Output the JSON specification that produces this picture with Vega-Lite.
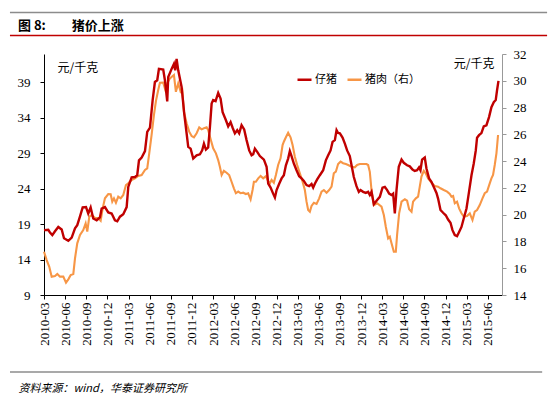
{
"$schema": "https://vega.github.io/schema/vega-lite/v6.json",
"width": 458, "height": 241,
"autosize": {"type": "none"},
"padding": {"left": 44, "top": 54, "right": 48, "bottom": 98},
"background": "white",
"title": {"text": "图 8:　　猪价上涨", "anchor": "start", "frame": "group", "dx": -26, "offset": 0, "dy": 21, "font": "Noto Sans CJK SC", "fontSize": 13, "fontWeight": "bold", "color": "#000000"},
"config": {"view": {"stroke": null}, "axis": {"grid": false}},
"datasets": {
"piglet": [{"month":0,"price":18.15},{"month":0.61,"price":18.2},{"month":0.85,"price":17.8},{"month":1.18,"price":17.45},{"month":1.56,"price":18.0},{"month":2.03,"price":18.6},{"month":2.51,"price":18.25},{"month":2.84,"price":17.0},{"month":3.45,"price":16.65},{"month":3.93,"price":17.1},{"month":4.40,"price":18.4},{"month":4.72,"price":18.85},{"month":5.11,"price":20.1},{"month":5.49,"price":21.35},{"month":5.96,"price":21.4},{"month":6.28,"price":20.5},{"month":6.62,"price":21.35},{"month":6.99,"price":19.8},{"month":7.48,"price":19.55},{"month":7.94,"price":19.95},{"month":8.18,"price":21.2},{"month":8.65,"price":21.4},{"month":9.12,"price":20.65},{"month":9.60,"price":20.5},{"month":10.07,"price":19.55},{"month":10.40,"price":19.4},{"month":10.78,"price":20.05},{"month":11.25,"price":20.4},{"month":11.73,"price":21.4},{"month":11.96,"price":24.25},{"month":12.44,"price":25.6},{"month":12.91,"price":25.65},{"month":13.23,"price":25.9},{"month":13.48,"price":28.0},{"month":13.86,"price":28.4},{"month":14.33,"price":29.3},{"month":14.65,"price":32.0},{"month":15.04,"price":32.6},{"month":15.42,"price":36.5},{"month":15.74,"price":39.05},{"month":16.07,"price":39.3},{"month":16.31,"price":40.9},{"month":16.92,"price":40.8},{"month":17.16,"price":39.3},{"month":17.49,"price":36.3},{"month":17.63,"price":39.75},{"month":18.11,"price":40.9},{"month":18.44,"price":41.6},{"month":18.62,"price":40.7},{"month":18.82,"price":42.3},{"month":19.05,"price":40.7},{"month":19.53,"price":38.35},{"month":19.90,"price":34.6},{"month":20.24,"price":31.8},{"month":20.47,"price":29.9},{"month":20.81,"price":29.65},{"month":21.18,"price":28.25},{"month":21.66,"price":28.7},{"month":22.13,"price":28.85},{"month":22.45,"price":29.4},{"month":22.70,"price":30.35},{"month":22.98,"price":29.5},{"month":23.30,"price":29.8},{"month":23.55,"price":32.7},{"month":23.79,"price":36.0},{"month":24.01,"price":36.5},{"month":24.35,"price":36.35},{"month":24.72,"price":37.5},{"month":25.06,"price":36.7},{"month":25.35,"price":34.8},{"month":25.82,"price":33.65},{"month":26.14,"price":32.8},{"month":26.48,"price":33.4},{"month":26.77,"price":32.6},{"month":27.09,"price":31.8},{"month":27.42,"price":32.25},{"month":27.70,"price":31.8},{"month":28.04,"price":32.95},{"month":28.41,"price":32.35},{"month":28.75,"price":30.85},{"month":29.12,"price":29.4},{"month":29.46,"price":28.7},{"month":29.69,"price":28.85},{"month":29.93,"price":29.65},{"month":30.26,"price":29.2},{"month":30.64,"price":28.6},{"month":31.21,"price":28.1},{"month":31.59,"price":27.1},{"month":31.82,"price":24.7},{"month":32.16,"price":24.15},{"month":32.52,"price":23.3},{"month":32.77,"price":22.75},{"month":33.01,"price":23.8},{"month":33.38,"price":24.7},{"month":33.72,"price":25.45},{"month":34.04,"price":25.9},{"month":34.33,"price":27.3},{"month":34.65,"price":28.25},{"month":34.89,"price":29.3},{"month":35.13,"price":28.6},{"month":35.46,"price":27.55},{"month":35.84,"price":26.6},{"month":36.21,"price":25.75},{"month":36.55,"price":25.45},{"month":36.88,"price":25.1},{"month":37.26,"price":24.5},{"month":37.63,"price":24.35},{"month":37.97,"price":24.65},{"month":38.20,"price":24.15},{"month":38.44,"price":24.7},{"month":38.77,"price":25.3},{"month":39.15,"price":25.9},{"month":39.62,"price":26.6},{"month":40.00,"price":28.0},{"month":40.33,"price":28.7},{"month":40.67,"price":29.4},{"month":40.95,"price":30.6},{"month":41.28,"price":30.85},{"month":41.52,"price":32.25},{"month":41.74,"price":31.85},{"month":41.99,"price":31.8},{"month":42.37,"price":31.2},{"month":42.70,"price":30.35},{"month":43.02,"price":29.4},{"month":43.40,"price":28.6},{"month":43.65,"price":27.3},{"month":43.97,"price":25.65},{"month":44.35,"price":24.35},{"month":44.68,"price":23.55},{"month":44.92,"price":23.8},{"month":45.29,"price":23.55},{"month":45.67,"price":23.4},{"month":46.00,"price":23.55},{"month":46.24,"price":23.1},{"month":46.48,"price":23.55},{"month":46.81,"price":21.8},{"month":47.28,"price":22.4},{"month":47.66,"price":22.85},{"month":48.04,"price":24.15},{"month":48.37,"price":24.25},{"month":48.70,"price":23.8},{"month":48.98,"price":23.3},{"month":49.32,"price":23.1},{"month":49.55,"price":23.3},{"month":49.79,"price":20.5},{"month":50.03,"price":23.8},{"month":50.35,"price":27.1},{"month":50.74,"price":28.1},{"month":51.06,"price":27.65},{"month":51.53,"price":27.3},{"month":51.91,"price":27.15},{"month":52.30,"price":26.7},{"month":52.62,"price":26.5},{"month":52.95,"price":26.6},{"month":53.23,"price":27.0},{"month":53.43,"price":26.6},{"month":53.66,"price":28.1},{"month":54.04,"price":28.4},{"month":54.28,"price":26.85},{"month":54.65,"price":25.45},{"month":54.99,"price":24.95},{"month":55.32,"price":24.25},{"month":55.70,"price":23.4},{"month":55.93,"price":22.6},{"month":56.27,"price":21.0},{"month":56.64,"price":20.6},{"month":57.02,"price":20.25},{"month":57.35,"price":19.65},{"month":57.69,"price":19.2},{"month":57.97,"price":18.15},{"month":58.30,"price":17.45},{"month":58.62,"price":17.3},{"month":58.91,"price":17.9},{"month":59.25,"price":18.6},{"month":59.57,"price":19.8},{"month":59.96,"price":21.2},{"month":60.28,"price":23.3},{"month":60.67,"price":25.9},{"month":60.99,"price":27.55},{"month":61.28,"price":29.4},{"month":61.46,"price":31.2},{"month":61.74,"price":31.55},{"month":62.08,"price":31.85},{"month":62.41,"price":32.8},{"month":62.79,"price":32.95},{"month":63.16,"price":34.1},{"month":63.50,"price":35.5},{"month":63.83,"price":36.2},{"month":64.11,"price":36.5},{"month":64.30,"price":37.9},{"month":64.50,"price":39.2}],
"pork": [{"month":0,"price":17.23},{"month":0.38,"price":16.61},{"month":0.75,"price":16.11},{"month":1.09,"price":15.37},{"month":1.56,"price":15.42},{"month":1.89,"price":15.57},{"month":2.27,"price":15.37},{"month":2.74,"price":15.37},{"month":3.12,"price":14.92},{"month":3.45,"price":15.17},{"month":3.79,"price":15.49},{"month":4.16,"price":15.57},{"month":4.40,"price":16.74},{"month":4.72,"price":17.86},{"month":5.11,"price":18.48},{"month":5.57,"price":18.85},{"month":5.91,"price":19.35},{"month":6.14,"price":18.73},{"month":6.43,"price":19.85},{"month":6.77,"price":19.97},{"month":7.23,"price":19.77},{"month":7.70,"price":19.73},{"month":8.04,"price":19.55},{"month":8.33,"price":20.47},{"month":8.65,"price":21.22},{"month":9.12,"price":21.54},{"month":9.46,"price":21.52},{"month":9.69,"price":20.97},{"month":9.93,"price":21.22},{"month":10.21,"price":20.89},{"month":10.54,"price":21.34},{"month":10.88,"price":21.22},{"month":11.25,"price":21.47},{"month":11.63,"price":22.21},{"month":11.96,"price":22.34},{"month":12.44,"price":22.59},{"month":12.91,"price":22.71},{"month":13.38,"price":22.89},{"month":13.86,"price":22.96},{"month":14.33,"price":23.34},{"month":14.65,"price":23.46},{"month":14.94,"price":24.6},{"month":15.28,"price":26.0},{"month":15.60,"price":27.44},{"month":15.89,"price":28.5},{"month":16.21,"price":29.31},{"month":16.45,"price":29.85},{"month":16.92,"price":29.86},{"month":17.30,"price":29.18},{"month":17.49,"price":29.81},{"month":17.87,"price":30.18},{"month":18.26,"price":30.36},{"month":18.44,"price":30.43},{"month":18.72,"price":29.18},{"month":19.05,"price":29.81},{"month":19.39,"price":29.18},{"month":19.62,"price":29.31},{"month":19.86,"price":27.69},{"month":20.24,"price":26.82},{"month":20.61,"price":26.2},{"month":20.95,"price":25.87},{"month":21.28,"price":25.78},{"month":21.66,"price":26.08},{"month":22.03,"price":26.52},{"month":22.37,"price":26.37},{"month":22.70,"price":26.45},{"month":23.08,"price":26.52},{"month":23.30,"price":26.32},{"month":23.65,"price":25.63},{"month":24.01,"price":24.96},{"month":24.40,"price":24.58},{"month":24.72,"price":24.08},{"month":24.96,"price":23.58},{"month":25.21,"price":22.96},{"month":25.53,"price":23.28},{"month":25.91,"price":23.13},{"month":26.28,"price":22.96},{"month":26.62,"price":22.46},{"month":26.95,"price":21.97},{"month":27.23,"price":21.6},{"month":27.56,"price":21.72},{"month":27.90,"price":21.6},{"month":28.27,"price":21.64},{"month":28.65,"price":21.54},{"month":28.98,"price":21.6},{"month":29.32,"price":21.15},{"month":29.60,"price":21.84},{"month":29.79,"price":22.46},{"month":30.07,"price":22.46},{"month":30.40,"price":22.71},{"month":30.74,"price":22.89},{"month":31.11,"price":22.71},{"month":31.49,"price":22.87},{"month":31.82,"price":22.5},{"month":32.06,"price":22.34},{"month":32.30,"price":22.59},{"month":32.62,"price":22.39},{"month":32.91,"price":22.96},{"month":33.23,"price":23.71},{"month":33.57,"price":24.21},{"month":33.86,"price":25.2},{"month":34.04,"price":25.45},{"month":34.33,"price":25.78},{"month":34.65,"price":26.12},{"month":34.99,"price":25.78},{"month":35.28,"price":25.2},{"month":35.60,"price":24.33},{"month":35.93,"price":23.71},{"month":36.31,"price":23.09},{"month":36.70,"price":22.46},{"month":37.02,"price":21.84},{"month":37.26,"price":20.97},{"month":37.49,"price":20.35},{"month":37.73,"price":20.22},{"month":37.97,"price":20.65},{"month":38.30,"price":20.89},{"month":38.68,"price":20.8},{"month":39.05,"price":21.22},{"month":39.39,"price":21.72},{"month":39.72,"price":21.84},{"month":40.10,"price":21.64},{"month":40.47,"price":21.84},{"month":40.81,"price":22.09},{"month":41.13,"price":23.09},{"month":41.42,"price":23.21},{"month":41.74,"price":23.78},{"month":42.09,"price":23.96},{"month":42.45,"price":23.84},{"month":42.84,"price":23.78},{"month":43.16,"price":23.71},{"month":43.65,"price":23.58},{"month":44.11,"price":23.54},{"month":44.44,"price":23.71},{"month":44.82,"price":23.78},{"month":45.29,"price":23.78},{"month":45.77,"price":23.78},{"month":46.00,"price":23.71},{"month":46.24,"price":23.2},{"month":46.48,"price":21.84},{"month":46.81,"price":20.72},{"month":47.28,"price":20.85},{"month":47.90,"price":20.6},{"month":48.23,"price":19.97},{"month":48.51,"price":19.1},{"month":48.84,"price":18.23},{"month":49.08,"price":18.35},{"month":49.32,"price":17.86},{"month":49.65,"price":17.23},{"month":49.93,"price":17.23},{"month":50.11,"price":18.48},{"month":50.40,"price":20.1},{"month":50.74,"price":20.97},{"month":51.21,"price":21.15},{"month":51.53,"price":21.04},{"month":51.82,"price":20.4},{"month":52.16,"price":20.22},{"month":52.38,"price":20.97},{"month":52.77,"price":21.22},{"month":53.09,"price":21.34},{"month":53.33,"price":22.09},{"month":53.57,"price":22.84},{"month":53.90,"price":23.28},{"month":54.18,"price":23.09},{"month":54.51,"price":22.71},{"month":54.99,"price":22.39},{"month":55.46,"price":22.14},{"month":55.93,"price":22.09},{"month":56.27,"price":21.97},{"month":56.74,"price":21.84},{"month":57.21,"price":21.72},{"month":57.59,"price":21.54},{"month":57.83,"price":21.34},{"month":58.06,"price":21.39},{"month":58.30,"price":20.85},{"month":58.62,"price":20.97},{"month":58.91,"price":20.47},{"month":59.25,"price":20.1},{"month":59.57,"price":19.85},{"month":60.04,"price":19.9},{"month":60.43,"price":20.1},{"month":60.81,"price":19.6},{"month":61.13,"price":20.22},{"month":61.46,"price":20.35},{"month":61.84,"price":20.72},{"month":62.23,"price":21.22},{"month":62.55,"price":21.6},{"month":62.88,"price":21.72},{"month":63.26,"price":22.34},{"month":63.50,"price":22.71},{"month":63.73,"price":22.96},{"month":63.97,"price":23.71},{"month":64.21,"price":24.58},{"month":64.44,"price":25.95}]
},
"layer": [
{"data": {"values": [{}]}, "mark": {"type": "rule", "color": "#8c8c8c", "strokeWidth": 1.5},
 "encoding": {"x": {"datum": -4.83, "type": "quantitative", "scale": {"domain": [0, 65], "nice": false, "zero": false}, "axis": null}, "x2": {"datum": 71.4},
  "y": {"datum": 48.87, "type": "quantitative", "scale": {"domain": [9, 43], "nice": false, "zero": false}, "axis": null}}},
{"data": {"values": [{}]}, "mark": {"type": "rule", "color": "#c00000", "strokeWidth": 1.5},
 "encoding": {"x": {"datum": -4.83, "type": "quantitative", "scale": {"domain": [0, 65], "nice": false, "zero": false}, "axis": null}, "x2": {"datum": 71.4},
  "y": {"datum": 45.61, "type": "quantitative", "scale": {"domain": [9, 43], "nice": false, "zero": false}, "axis": null}}},
{"data": {"values": [{}]}, "mark": {"type": "rule", "color": "#8c8c8c", "strokeWidth": 1.5},
 "encoding": {"x": {"datum": -4.83, "type": "quantitative", "scale": {"domain": [0, 65], "nice": false, "zero": false}, "axis": null}, "x2": {"datum": 70.7},
  "y": {"datum": -1.86, "type": "quantitative", "scale": {"domain": [9, 43], "nice": false, "zero": false}, "axis": null}}},
{"data": {"name": "pork"}, "mark": {"type": "line", "strokeWidth": 2.1},
 "encoding": {
  "x": {"field": "month", "type": "quantitative", "scale": {"domain": [0, 65], "nice": false, "zero": false}, "axis": null},
  "y": {"field": "price", "type": "quantitative", "scale": {"domain": [14, 32], "nice": false, "zero": false},
   "axis": {"orient": "right", "values": [14,16,18,20,22,24,26,28,30,32], "labelFont": "Liberation Serif", "labelFontSize": 13, "labelColor": "#000000", "labelPadding": 7,
    "tickSize": 4, "tickColor": "#999999", "domainColor": "#999999",
    "title": "元/千克", "titleAngle": 0, "titleAlign": "right", "titleBaseline": "middle", "titleX": -8, "titleY": 9,
    "titleFont": "Noto Sans CJK SC", "titleFontSize": 12, "titleFontWeight": "normal", "titleColor": "#000000"}},
  "color": {"datum": "猪肉（右）", "type": "nominal", "scale": {"domain": ["仔猪", "猪肉（右）"], "range": ["#c00000", "#f79646"]},
   "legend": {"title": null, "orient": "none", "legendX": 252, "legendY": 17, "direction": "horizontal", "symbolType": "stroke", "symbolSize": 196, "symbolStrokeWidth": 2.5,
    "labelFont": "Noto Sans CJK SC", "labelFontSize": 11, "labelColor": "#000000", "columnPadding": 5, "labelOffset": 2, "padding": 0}}
 }},
{"data": {"name": "piglet"}, "mark": {"type": "line", "strokeWidth": 2.4},
 "encoding": {
  "x": {"field": "month", "type": "quantitative", "scale": {"domain": [0, 65], "nice": false, "zero": false},
   "axis": {"values": [0,3,6,9,12,15,18,21,24,27,30,33,36,39,42,45,48,51,54,57,60,63],
    "labelExpr": "toString(2010 + floor((datum.value + 2) / 12)) + '-' + ((((datum.value + 2) % 12) + 1) < 10 ? '0' : '') + toString(((datum.value + 2) % 12) + 1)",
    "labelAngle": 270, "labelFont": "Liberation Serif", "labelFontSize": 13, "labelColor": "#000000", "labelPadding": 3, "labelOverlap": false, "labelSeparation": 0,
    "tickSize": 4, "tickColor": "#000000", "domainColor": "#000000",
    "title": "资料来源：wind，华泰证券研究所", "titleAngle": 0, "titleAlign": "left", "titleBaseline": "middle", "titleX": -26, "titleY": 93,
    "titleFont": "Noto Sans CJK SC", "titleFontSize": 11, "titleFontStyle": "italic", "titleFontWeight": "normal", "titleColor": "#000000"}},
  "y": {"field": "price", "type": "quantitative", "scale": {"domain": [9, 43], "nice": false, "zero": false},
   "axis": {"orient": "left", "values": [9,14,19,24,29,34,39], "labelFont": "Liberation Serif", "labelFontSize": 13, "labelColor": "#000000", "labelPadding": 10,
    "tickSize": 4, "tickColor": "#000000", "domainColor": "#000000",
    "title": "元/千克", "titleAngle": 0, "titleAlign": "left", "titleBaseline": "middle", "titleX": 13, "titleY": 13,
    "titleFont": "Noto Sans CJK SC", "titleFontSize": 12, "titleFontWeight": "normal", "titleColor": "#000000"}},
  "color": {"datum": "仔猪", "type": "nominal"}
 }}
],
"resolve": {"scale": {"x": "independent", "y": "independent"}}
}
